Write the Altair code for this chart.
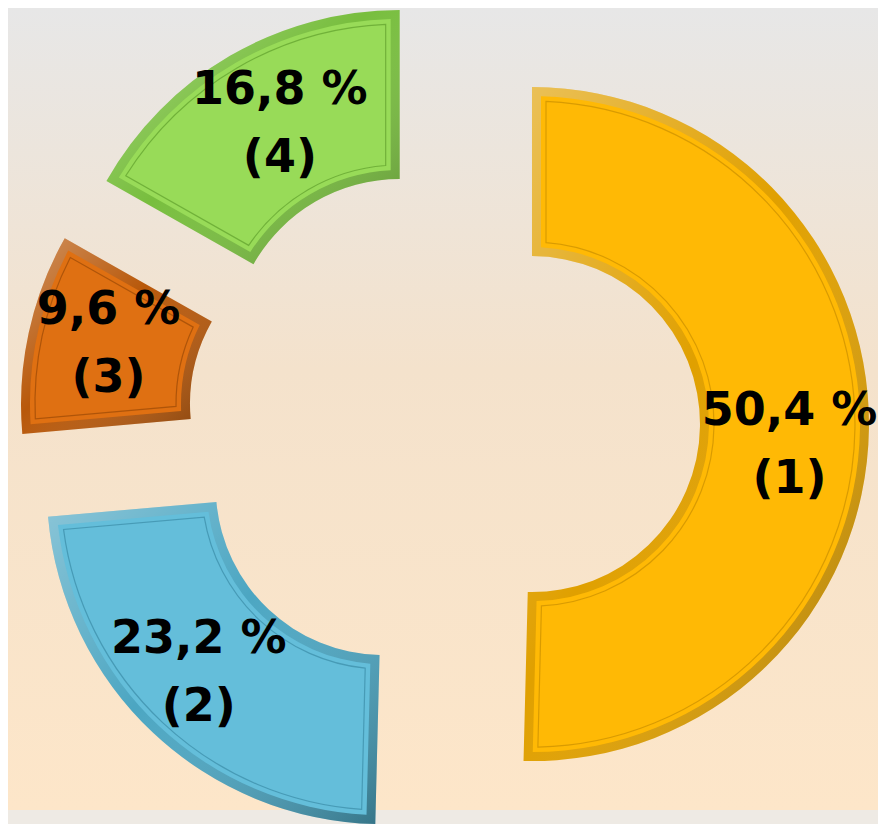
import math
import altair as alt
import pandas as pd

# ---- data ----
keys = ["(1)", "(2)", "(3)", "(4)"]
values = [50.4, 23.2, 9.6, 16.8]
value_labels = ["50,4 %", "23,2 %", "9,6 %", "16,8 %"]
order = [0, 1, 2, 3]

# ---- styles ----
face_colors = ["#FFB905", "#64BEDA", "#DF7012", "#98DB58"]
edge_colors = ["#E0A000", "#4CA6C2", "#B8580A", "#78BE3E"]
line_colors = ["#C98E00", "#3A8CA6", "#9A4806", "#5FA02C"]

W, H = 870, 802
CX, CY = 436, 415        # pie centre (px in plot area)
EXPLODE = 88
R_IN, R_OUT = 168, 337
R_LABEL = 258
LABEL_TURN = 0.045       # small clockwise turn of the label position (radians)
BEVEL = 9
LINE = 14


def pad_for(inset, r0, r1):
    rp = math.sqrt(r0 * r0 + r1 * r1)
    return 2 * math.asin(inset / rp)


df = pd.DataFrame({"key": keys, "value": values, "pct": value_labels, "order": order})

xs = alt.Scale(domain=[0, W], range=[0, W], nice=False, zero=False)
ys = alt.Scale(domain=[0, H], range=[0, H], nice=False, zero=False)
ts = alt.Scale(domain=[0, 100], range=[0, 2 * math.pi])

base = alt.Chart(df).transform_window(
    end="sum(value)", sort=[alt.SortField("order")], frame=[None, 0]
).transform_calculate(
    start="datum.end - datum.value",
    ang="(datum.end - datum.value / 2) / 100 * 2 * PI",
).transform_calculate(
    cx=f"{CX} + {EXPLODE} * sin(datum.ang)",
    cy=f"{CY} - {EXPLODE} * cos(datum.ang)",
).transform_calculate(
    lx=f"datum.cx + {R_LABEL} * sin(datum.ang + {LABEL_TURN})",
    ly=f"datum.cy - {R_LABEL} * cos(datum.ang + {LABEL_TURN})",
    txt="datum.pct + '\\n' + datum.key",
)

pos = dict(
    x=alt.X("cx:Q", scale=xs, axis=None),
    y=alt.Y("cy:Q", scale=ys, axis=None),
    theta=alt.Theta("start:Q", scale=ts, stack=None),
    theta2="end:Q",
)

bg = alt.Chart(df).mark_rect(
    fill=alt.LinearGradient(
        gradient="linear",
        stops=[
            alt.GradientStop(color="#E7E7E7", offset=0),
            alt.GradientStop(color="#F4E2CC", offset=0.45),
            alt.GradientStop(color="#FDE6C9", offset=1),
        ],
        x1=0, x2=0, y1=0, y2=1,
    )
).encode(x=alt.value(0), x2=alt.value(W), y=alt.value(0), y2=alt.value(H))

edge = base.mark_arc(innerRadius=R_IN, outerRadius=R_OUT).encode(
    fill=alt.Fill("key:N", scale=alt.Scale(domain=keys, range=edge_colors), legend=None),
    **pos,
)

shade = base.mark_arc(
    innerRadius=R_IN,
    outerRadius=R_OUT,
    fill=alt.LinearGradient(
        gradient="linear",
        stops=[
            alt.GradientStop(color="rgba(255,255,255,0.35)", offset=0),
            alt.GradientStop(color="rgba(255,255,255,0.0)", offset=0.45),
            alt.GradientStop(color="rgba(0,0,0,0.30)", offset=1),
        ],
        x1=0, y1=0, x2=1, y2=1,
    ),
).encode(**pos)

face = base.mark_arc(
    innerRadius=R_IN + BEVEL,
    outerRadius=R_OUT - BEVEL,
    padAngle=pad_for(BEVEL, R_IN + BEVEL, R_OUT - BEVEL),
).encode(
    color=alt.Color("key:N", scale=alt.Scale(domain=keys, range=face_colors), legend=None),
    **pos,
)

line = base.mark_arc(
    innerRadius=R_IN + LINE,
    outerRadius=R_OUT - LINE,
    padAngle=pad_for(LINE, R_IN + LINE, R_OUT - LINE),
    filled=False,
    strokeWidth=1.2,
    strokeOpacity=0.7,
).encode(
    stroke=alt.Stroke("key:N", scale=alt.Scale(domain=keys, range=line_colors), legend=None),
    **pos,
)

text = base.mark_text(
    font="DejaVu Sans",
    fontWeight="bold",
    fontSize=46,
    lineBreak="\n",
    lineHeight=68,
    dy=-28,
    align="center",
    baseline="middle",
    color="#000000",
).encode(
    x=alt.X("lx:Q", scale=xs, axis=None),
    y=alt.Y("ly:Q", scale=ys, axis=None),
    text="txt:N",
)

chart = (
    alt.layer(bg, edge, shade, face, line, text)
    .properties(width=W, height=H, padding=0, background="#EEEAE4")
    .configure_view(strokeWidth=0)
)

chart.save("out.html", embed_options={"renderer": "svg", "actions": False})
